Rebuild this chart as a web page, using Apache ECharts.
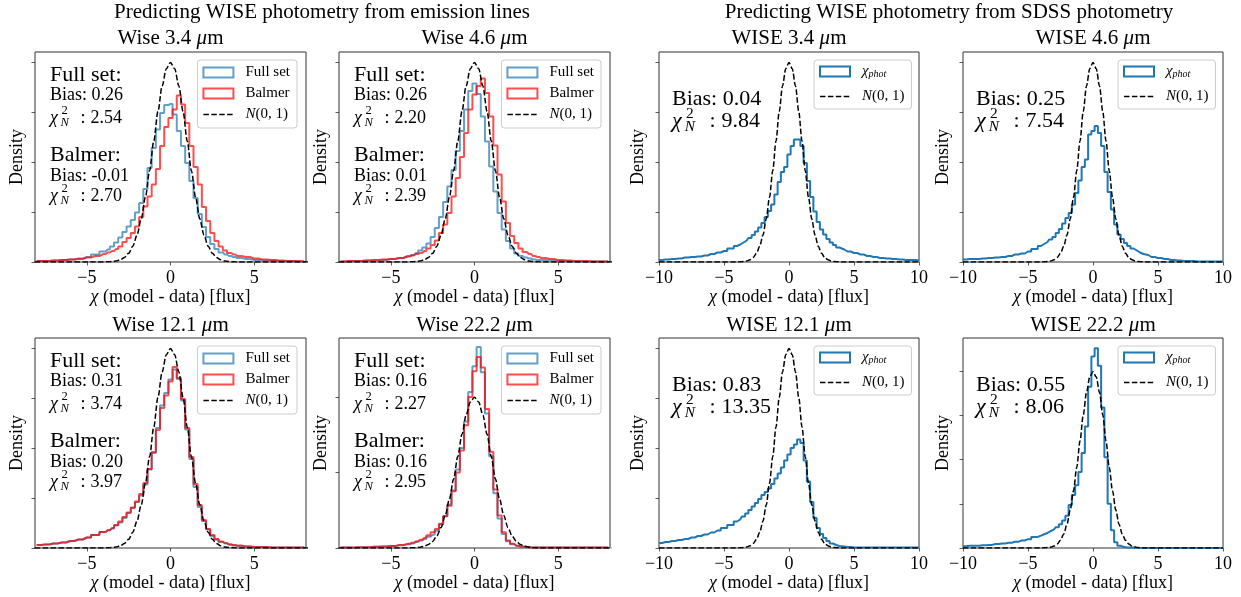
<!DOCTYPE html>
<html><head><meta charset="utf-8">
<script src="https://cdn.jsdelivr.net/npm/echarts@6/dist/echarts.min.js"></script>
<style>html,body{margin:0;padding:0;background:#fff}#c{width:1241px;height:597px}</style>
</head><body><div id="c"></div>
<script>
// ---------- DATA ----------
const binsEm = [-8,-7.5,-7,-6.5,-6,-5.5,-5,-4.5,
  -4,-3.75,-3.5,-3.25,-3,-2.75,-2.5,-2.25,-2,-1.75,-1.5,-1.25,-1,-0.75,-0.5,-0.25,0,0.25,0.5,0.75,1,1.25,1.5,1.75,2,2.25,2.5,2.75,3,3.25,3.5,3.75,4,
  4.5,5,5.5,6,6.5,7,7.5,8];
const binsPhot = [-10,-9.5,-9,-8.5,-8,-7.5,-7,-6.5,-6,-5.5,-5,-4.5,
  -4,-3.75,-3.5,-3.25,-3,-2.75,-2.5,-2.25,-2,-1.75,-1.5,-1.25,-1,-0.75,-0.5,-0.25,0,0.25,0.5,0.75,1,1.25,1.5,1.75,2,2.25,2.5,2.75,3,3.25,3.5,3.75,4,
  4.5,5,5.5,6,6.5,7,7.5,8,8.5,9,9.5,10];

const w34Full   = [0.002,0.002,0.003,0.004,0.005,0.007,0.010,0.015, 0.021,0.025,0.031,0.039,0.049,0.060,0.071,0.084,0.099,0.118,0.146,0.188,0.228,0.265,0.298,0.314,0.316,0.295,0.262,0.232,0.198,0.162,0.128,0.096,0.070,0.050,0.036,0.026,0.019,0.015,0.012,0.010,0.008, 0.006,0.004,0.003,0.003,0.002,0.002,0.001,0.001];
const w34Balmer = [0.002,0.002,0.003,0.004,0.005,0.006,0.009,0.012, 0.016,0.019,0.022,0.026,0.031,0.040,0.048,0.058,0.071,0.090,0.111,0.131,0.155,0.186,0.232,0.270,0.288,0.305,0.333,0.315,0.278,0.232,0.190,0.155,0.110,0.082,0.058,0.042,0.031,0.023,0.018,0.015,0.012, 0.010,0.007,0.005,0.004,0.003,0.002,0.002,0.001];
const w46Full   = [0.001,0.002,0.002,0.003,0.003,0.004,0.006,0.008, 0.012,0.014,0.018,0.023,0.029,0.037,0.050,0.068,0.090,0.120,0.151,0.184,0.222,0.262,0.305,0.342,0.357,0.336,0.291,0.241,0.191,0.141,0.098,0.065,0.042,0.027,0.017,0.012,0.009,0.007,0.005,0.004,0.004, 0.003,0.002,0.002,0.001,0.001,0.001,0.001,0.001];
const w46Balmer = [0.001,0.002,0.002,0.003,0.004,0.005,0.006,0.008, 0.011,0.013,0.016,0.018,0.022,0.027,0.034,0.043,0.058,0.075,0.098,0.131,0.168,0.210,0.258,0.305,0.335,0.352,0.367,0.338,0.291,0.233,0.175,0.121,0.078,0.052,0.038,0.027,0.020,0.016,0.012,0.010,0.008, 0.006,0.004,0.003,0.002,0.002,0.001,0.001,0.001];
const w121Full   = [0.006,0.007,0.009,0.011,0.014,0.017,0.021,0.026, 0.032,0.035,0.039,0.045,0.051,0.060,0.070,0.080,0.092,0.105,0.127,0.157,0.190,0.240,0.285,0.310,0.337,0.357,0.338,0.295,0.237,0.178,0.122,0.082,0.054,0.037,0.024,0.017,0.012,0.009,0.007,0.005,0.004, 0.003,0.002,0.002,0.001,0.001,0.001,0.001,0.001];
const w121Balmer = [0.006,0.007,0.009,0.011,0.014,0.017,0.021,0.026, 0.032,0.036,0.040,0.046,0.053,0.062,0.071,0.081,0.093,0.108,0.130,0.158,0.192,0.236,0.280,0.305,0.333,0.362,0.340,0.298,0.240,0.182,0.128,0.086,0.056,0.038,0.026,0.018,0.013,0.010,0.007,0.006,0.005, 0.003,0.002,0.002,0.001,0.001,0.001,0.001,0.001];
const w222Full   = [0.001,0.001,0.002,0.002,0.003,0.004,0.005,0.007, 0.010,0.012,0.016,0.020,0.024,0.030,0.035,0.046,0.062,0.085,0.115,0.152,0.208,0.265,0.335,0.413,0.481,0.532,0.465,0.356,0.243,0.145,0.078,0.037,0.018,0.010,0.006,0.004,0.003,0.002,0.001,0.001,0.001, 0.001,0.001,0.001,0.001,0.001,0.001,0.001,0.001];
const w222Balmer = [0.001,0.001,0.002,0.002,0.003,0.004,0.005,0.008, 0.011,0.014,0.018,0.022,0.027,0.034,0.042,0.050,0.064,0.084,0.112,0.150,0.200,0.258,0.325,0.400,0.468,0.506,0.478,0.368,0.255,0.155,0.086,0.042,0.020,0.011,0.006,0.004,0.003,0.002,0.001,0.001,0.001, 0.001,0.001,0.001,0.001,0.001,0.001,0.001,0.001];

const p34  = [0.004,0.005,0.006,0.007,0.009,0.010,0.011,0.013,0.016,0.019,0.022,0.027, 0.032,0.035,0.039,0.043,0.048,0.054,0.061,0.069,0.078,0.090,0.102,0.115,0.135,0.160,0.180,0.190,0.215,0.232,0.245,0.245,0.232,0.198,0.162,0.130,0.101,0.080,0.065,0.055,0.046,0.039,0.034,0.029,0.025, 0.021,0.018,0.015,0.012,0.010,0.008,0.007,0.006,0.005,0.004,0.004,0.003];
const p46  = [0.005,0.006,0.006,0.007,0.008,0.009,0.010,0.012,0.015,0.017,0.021,0.026, 0.032,0.036,0.040,0.045,0.050,0.058,0.066,0.077,0.088,0.098,0.115,0.138,0.163,0.190,0.205,0.255,0.262,0.272,0.258,0.232,0.180,0.140,0.105,0.075,0.055,0.046,0.038,0.032,0.027,0.023,0.019,0.016,0.014, 0.010,0.008,0.006,0.004,0.003,0.002,0.002,0.001,0.001,0.001,0.001,0.001];
const p121 = [0.010,0.012,0.014,0.016,0.018,0.021,0.024,0.027,0.031,0.035,0.040,0.046, 0.053,0.057,0.063,0.069,0.076,0.083,0.090,0.098,0.106,0.112,0.119,0.128,0.139,0.149,0.161,0.175,0.187,0.200,0.207,0.217,0.210,0.175,0.133,0.092,0.060,0.040,0.028,0.020,0.014,0.009,0.006,0.004,0.003, 0.002,0.001,0.001,0.001,0.001,0.001,0.001,0.001,0.001,0.001,0.001,0.001];
const p222 = [0.004,0.005,0.005,0.006,0.007,0.009,0.010,0.012,0.014,0.017,0.020,0.025, 0.028,0.031,0.034,0.038,0.042,0.047,0.054,0.062,0.073,0.097,0.120,0.142,0.172,0.215,0.275,0.365,0.433,0.452,0.412,0.318,0.205,0.100,0.040,0.013,0.005,0.002,0.001,0.001,0.001,0,0,0,0, 0,0,0,0,0,0,0,0,0,0,0,0];

const normX = [-10,-4,-3.75,-3.5,-3.25,-3,-2.75,-2.5,-2.25,-2,-1.75,-1.5,-1.25,-1,-0.75,-0.5,-0.25,0,0.25,0.5,0.75,1,1.25,1.5,1.75,2,2.25,2.5,2.75,3,3.25,3.5,3.75,4,10];
const normY = [0,0.0001,0.0004,0.0009,0.0020,0.0044,0.0091,0.0175,0.0317,0.0540,0.0863,0.1295,0.1826,0.2420,0.3011,0.3521,0.3867,0.3989,0.3867,0.3521,0.3011,0.2420,0.1826,0.1295,0.0863,0.0540,0.0317,0.0175,0.0091,0.0044,0.0020,0.0009,0.0004,0.0001,0];

const mainTitles = ['Predicting WISE photometry from emission lines', 'Predicting WISE photometry from SDSS photometry'];
const panelTitles = ['Wise 3.4', 'Wise 4.6', 'WISE 3.4', 'WISE 4.6', 'Wise 12.1', 'Wise 22.2', 'WISE 12.1', 'WISE 22.2'];
const fullBias = ['0.26', '0.26', '0.31', '0.16'];
const fullChi  = ['2.54', '2.20', '3.74', '2.27'];
const balBias  = ['-0.01', '0.01', '0.20', '0.16'];
const balChi   = ['2.70', '2.39', '3.97', '2.95'];
const photBias = ['0.04', '0.25', '0.83', '0.55'];
const photChi  = ['9.84', '7.54', '13.35', '8.06'];
const emTicksX = [-5, 0, 5];
const photTicksX = [-10, -5, 0, 5, 10];
const yMaxes = [0.42, 0.42, 0.42, 0.42, 0.42, 0.556, 0.42, 0.475];
const yTicks = [
  [0,0.1,0.2,0.3,0.4],[0,0.1,0.2,0.3,0.4],[0,0.1,0.2,0.3,0.4],[0,0.1,0.2,0.3,0.4],
  [0,0.1,0.2,0.3,0.4],[0,0.2,0.4],[0,0.1,0.2,0.3,0.4],[0,0.1,0.2,0.3,0.4]];

// ---------- LAYOUT / STYLE ----------
const FONT = '"Liberation Serif","DejaVu Serif",serif';
const COLS = [[35,271],[339,271],[659,260],[963,260]];
const ROWS = [52,338];
const H = 210;
const BLUE_A = 'rgba(31,119,180,0.7)', RED_A = 'rgba(255,0,0,0.7)', BLUE = '#1f77b4';
const DASH_ICON = 'path://M0,0L0.01,0L0,0.01Z M0,10L0.01,10L0,9.99Z M29.99,0L30,0L30,0.01Z M0,4.25h5.5v1.5h-5.5Z M7.9,4.25h5.5v1.5h-5.5Z M15.8,4.25h5.5v1.5h-5.5Z M23.7,4.25h5.5v1.5h-5.5Z';
const fmtTick = v => (v < 0 ? '\u2212' + Math.abs(v) : String(v));

// panel index -> [col,row,kind,sub-index]
const PANELS = [[0,0,'em',0],[1,0,'em',1],[2,0,'ph',0],[3,0,'ph',1],[0,1,'em',2],[1,1,'em',3],[2,1,'ph',2],[3,1,'ph',3]];
const emFull = [w34Full, w46Full, w121Full, w222Full];
const emBal  = [w34Balmer, w46Balmer, w121Balmer, w222Balmer];
const phData = [p34, p46, p121, p222];

function txt(text, x, y, size, opts) {
  opts = opts || {};
  return {type:'text', x:x, y:y, silent:true, z:100, style:{
    text:text, fontSize:size, fontFamily:FONT, fontStyle:opts.italic ? 'italic' : 'normal',
    fill:'#000', align:opts.align || 'left', verticalAlign:'middle'}};
}
function chiLine(x, y, s, val, supDy, subDy) {
  return [
    txt('\u03c7', x, y, s, {italic:true}),
    txt('2', x + 0.64*s, y - supDy*s, 0.7*s),
    txt('N', x + 0.58*s, y + subDy*s, 0.7*s, {italic:true}),
    txt(':', x + 1.7*s, y, s),
    txt(val, x + 2.25*s, y, s)
  ];
}

const grids = [], xAxes = [], yAxes = [], series = [], legends = [], graphics = [];
graphics.push(txt(mainTitles[0], 322, 12.5, 21, {align:'center'}));
graphics.push(txt(mainTitles[1], 949, 12.5, 21, {align:'center'}));

PANELS.forEach((p, i) => {
  const [c, r, kind, k] = p;
  const gx = COLS[c][0], gw = COLS[c][1], gy = ROWS[r];
  grids.push({left:gx, top:gy, width:gw, height:H, show:true, borderColor:'#333', borderWidth:1,
    backgroundColor:'transparent', containLabel:false, outerBoundsMode:'none'});
  const isEm = kind === 'em';
  const xt = isEm ? emTicksX : photTicksX;
  xAxes.push({gridIndex:i, type:'value', min:isEm ? -8.1 : -10, max:isEm ? 8.1 : 10, position:'bottom',
    axisLine:{show:false, onZero:false}, splitLine:{show:false},
    axisTick:{show:true, inside:false, length:3.5, customValues:xt, lineStyle:{color:'#333', width:0.8}},
    axisLabel:{show:true, customValues:xt, formatter:fmtTick, fontSize:18, fontFamily:FONT, color:'#000', margin:7},
    name:'{i|\u03c7} (model - data) [flux]', nameLocation:'middle', nameGap:r === 0 ? 24 : 25.5,
    nameTextStyle:{fontSize:18, fontFamily:FONT, color:'#000', rich:{i:{fontSize:18, fontFamily:FONT, fontStyle:'italic', color:'#000'}}}});
  yAxes.push({gridIndex:i, type:'value', min:0, max:yMaxes[i], position:'left',
    axisLine:{show:false, onZero:false}, splitLine:{show:false},
    axisTick:{show:true, inside:false, length:3.5, customValues:yTicks[i], lineStyle:{color:'#333', width:0.8}},
    axisLabel:{show:false},
    name:'Density', nameLocation:'middle', nameGap:c < 2 ? 9 : (c === 2 ? 12 : 11),
    nameTextStyle:{fontSize:18, fontFamily:FONT, color:'#000'}});

  // subplot title
  const tcx = gx + gw/2, tcy = r === 0 ? 38 : 325.5;
  graphics.push({type:'text', x:tcx, y:tcy, silent:true, style:{
    text:panelTitles[i] + ' {i|\u03bc}m', fontSize:21, fontFamily:FONT, fill:'#000', align:'center', verticalAlign:'middle',
    rich:{i:{fontSize:21, fontFamily:FONT, fontStyle:'italic', fill:'#000'}}}});

  if (isEm) {
    series.push({name:'Full set', type:'line', xAxisIndex:i, yAxisIndex:i, step:'middle', symbol:'none', silent:true,
      lineStyle:{color:BLUE, width:2, opacity:0.7}, itemStyle:{color:BLUE}, z:2,
      data:binsEm.map((x, j) => [x, emFull[k][j]])});
    series.push({name:'Balmer', type:'line', xAxisIndex:i, yAxisIndex:i, step:'middle', symbol:'none', silent:true,
      lineStyle:{color:'#ff0000', width:2, opacity:0.7}, itemStyle:{color:'#ff0000'}, z:3,
      data:binsEm.map((x, j) => [x, emBal[k][j]])});
  } else {
    series.push({name:'phot', type:'line', xAxisIndex:i, yAxisIndex:i, step:'middle', symbol:'none', silent:true,
      lineStyle:{color:BLUE, width:2}, itemStyle:{color:BLUE}, z:2,
      data:binsPhot.map((x, j) => [x, phData[k][j]])});
  }
  series.push({name:'N01', type:'line', xAxisIndex:i, yAxisIndex:i, symbol:'none', silent:true, smooth:0.3, smoothMonotone:'x',
    lineStyle:{color:'#000', width:1.5, type:[5.5, 2.4]}, itemStyle:{color:'#000'}, z:4,
    data:normX.map((x, j) => [x, normY[j]])});

  const legendRich = {
    t:{fontSize:15, fontFamily:FONT, color:'#000', padding:[0,0,0,7]},
    ti:{fontSize:15, fontFamily:FONT, fontStyle:'italic', color:'#000', padding:[0,0,0,7]},
    r:{fontSize:15, fontFamily:FONT, color:'#000'},
    s:{fontSize:10, fontFamily:FONT, fontStyle:'italic', color:'#000', padding:[5,0,0,0]}
  };
  const fmt = name => name === 'N01' ? '{ti|N}{r|(0, 1)}' : (name === 'phot' ? '{ti|\u03c7}{s|phot}' : '{t|' + name + '}');
  const common = {orient:'vertical', right:1241 - (gx + gw) + (isEm ? 9 : 7.5), top:gy + 8, itemWidth:30, itemHeight:10,
    borderColor:'#cccccc', borderWidth:1, borderRadius:3, backgroundColor:'rgba(255,255,255,0.8)',
    selectedMode:false, formatter:fmt, textStyle:{fontSize:15, fontFamily:FONT, color:'#000', rich:legendRich}};
  if (isEm) {
    legends.push(Object.assign({}, common, {padding:[5,7,6,5], itemGap:6, data:[
      {name:'Full set', icon:'rect', itemStyle:{color:'rgba(0,0,0,0)', borderColor:BLUE_A, borderWidth:2}},
      {name:'Balmer', icon:'rect', itemStyle:{color:'rgba(0,0,0,0)', borderColor:RED_A, borderWidth:2}},
      {name:'N01', icon:DASH_ICON, itemStyle:{color:'#000', borderWidth:0}}]}));
    const x0 = gx + 15;
    graphics.push(txt('Full set:', x0, gy + 23.5, 22));
    graphics.push(txt('Bias: ' + fullBias[k], x0, gy + 43, 18));
    chiLine(x0, gy + 66.5, 18, fullChi[k], 0.42, 0.24).forEach(e => graphics.push(e));
    graphics.push(txt('Balmer:', x0, gy + 103.5, 22));
    graphics.push(txt('Bias: ' + balBias[k], x0, gy + 124.5, 18));
    chiLine(x0, gy + 144.5, 18, balChi[k], 0.42, 0.24).forEach(e => graphics.push(e));
  } else {
    legends.push(Object.assign({}, common, {padding:[4,7,5,5], itemGap:10, data:[
      {name:'phot', icon:'rect', itemStyle:{color:'rgba(0,0,0,0)', borderColor:BLUE, borderWidth:2}},
      {name:'N01', icon:DASH_ICON, itemStyle:{color:'#000', borderWidth:0}}]}));
    const x0 = gx + 13;
    graphics.push(txt('Bias: ' + photBias[k], x0, gy + 47, 22));
    chiLine(x0, gy + 69, 22, photChi[k], 0.33, 0.28).forEach(e => graphics.push(e));
  }
});

const chart = echarts.init(document.getElementById('c'), null, {renderer:'canvas'});
chart.setOption({
  animation:false,
  backgroundColor:'#ffffff',
  grid:grids, xAxis:xAxes, yAxis:yAxes, series:series, legend:legends,
  graphic:graphics
});
</script>
</body></html>
